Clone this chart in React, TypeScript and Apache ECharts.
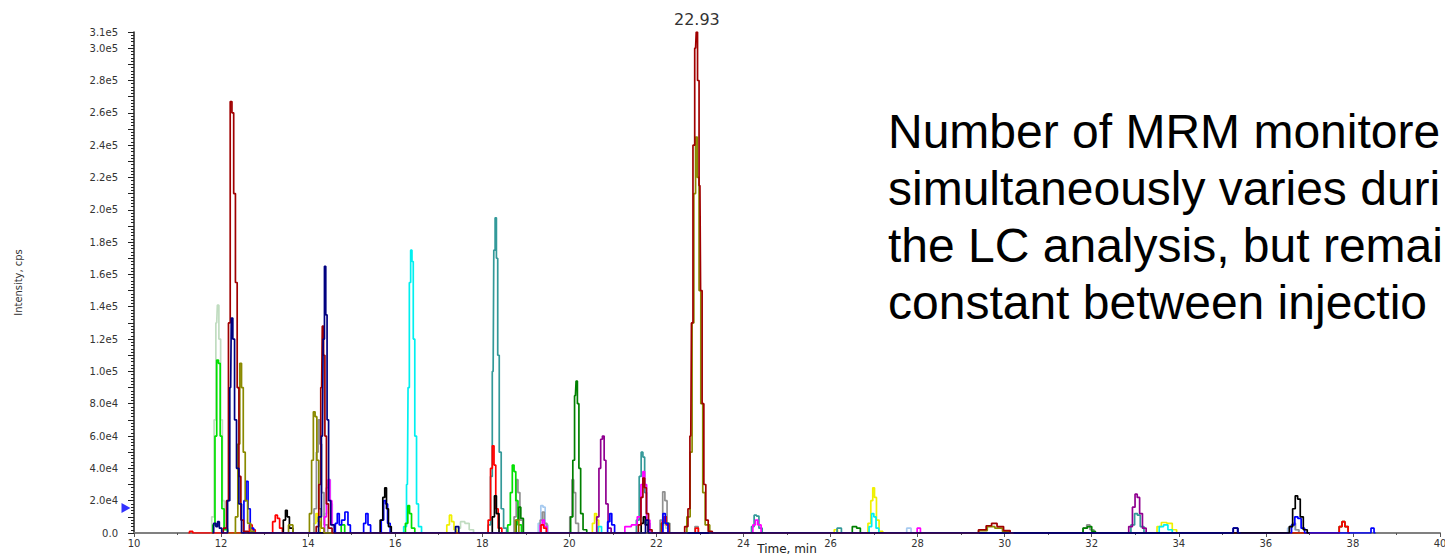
import React, { useEffect, useRef } from "react";
import * as echarts from "echarts";

// ---- Data (time in min, intensity in cps) ----
const xTicks = { min: 10, max: 40, step: 2 };
const yTicks = { min: 0, max: 310000, step: 10000 };
const apexTime = 22.93;
const apexIntensity = 310000;
const thresholdIntensity = 15500;

const paleGreenTrace: number[][] = [
  [11.75, 0], [11.82, 10000], [11.86, 70000], [11.9, 130000], [11.93, 141000], [11.97, 120000], [12.01, 70000], [12.05, 20000], [12.1, 3000], [12.2, 0],
  [17.35, 0], [17.45, 3000], [17.55, 7000], [17.65, 6000], [17.75, 2000], [17.85, 0],
  [22.1, 0], [22.18, 5000], [22.25, 3000], [22.35, 0],
];
const lightBlueTrace: number[][] = [
  [14.35, 0], [14.41, 12000], [14.45, 30000], [14.49, 33000], [14.53, 18000], [14.58, 4000], [14.66, 0],
  [19.25, 0], [19.32, 6000], [19.37, 17000], [19.42, 16000], [19.47, 5000], [19.55, 0],
  [27.7, 0], [27.8, 3000], [27.9, 0],
  [36.45, 0], [36.55, 3000], [36.62, 5000], [36.7, 2000], [36.8, 0],
];
const yellowTrace: number[][] = [
  [14.1, 0], [14.16, 6000], [14.2, 12000], [14.25, 7000], [14.3, 0],
  [17.15, 0], [17.22, 5000], [17.27, 11000], [17.32, 7000], [17.38, 2000], [17.45, 0],
  [20.5, 0], [20.56, 6000], [20.6, 12000], [20.65, 8000], [20.7, 0],
  [26.05, 0], [26.12, 2000], [26.2, 0],
  [26.82, 0], [26.9, 6000], [26.95, 20000], [26.99, 28000], [27.03, 22000], [27.08, 8000], [27.15, 1000], [27.25, 0],
  [33.45, 0], [33.55, 4000], [33.65, 6500], [33.8, 6000], [33.9, 2000], [34.0, 0],
];
const grayTrace: number[][] = [
  [14.1, 0], [14.17, 15000], [14.21, 50000], [14.25, 70000], [14.29, 55000], [14.33, 25000], [14.4, 5000], [14.5, 0],
  [18.7, 0], [18.76, 10000], [18.8, 33000], [18.84, 25000], [18.89, 8000], [18.97, 0],
  [19.3, 0], [19.36, 8000], [19.4, 13000], [19.45, 6000], [19.52, 0],
  [19.98, 0], [20.04, 10000], [20.08, 33000], [20.12, 25000], [20.17, 6000], [20.25, 0],
  [22.05, 0], [22.12, 8000], [22.17, 25500], [22.22, 20000], [22.27, 6000], [22.35, 0],
  [22.85, 0], [22.92, 4000], [23.0, 0],
  [31.75, 0], [31.85, 3000], [31.92, 5000], [32.0, 2000], [32.1, 0],
  [36.5, 0], [36.58, 4000], [36.64, 6000], [36.72, 2000], [36.8, 0],
];
const cyanTrace: number[][] = [
  [16.15, 0], [16.24, 4000], [16.28, 30000], [16.31, 90000], [16.34, 155000], [16.37, 175000], [16.4, 168000], [16.43, 120000], [16.47, 60000], [16.51, 18000], [16.56, 4000], [16.65, 0],
  [20.62, 0], [20.7, 4000], [20.78, 0],
  [26.85, 0], [26.92, 4000], [26.97, 12000], [27.02, 10000], [27.07, 3000], [27.15, 0],
  [33.5, 0], [33.6, 4000], [33.7, 5000], [33.8, 2000], [33.9, 0],
];
const limeTrace: number[][] = [
  [11.78, 0], [11.84, 5000], [11.88, 60000], [11.92, 107000], [11.96, 105000], [12.0, 60000], [12.04, 15000], [12.1, 2000], [12.2, 0],
  [14.72, 0], [14.8, 5000], [14.88, 0],
  [16.2, 0], [16.27, 6000], [16.31, 17000], [16.35, 12000], [16.4, 3000], [16.5, 0],
  [18.55, 0], [18.62, 5000], [18.67, 25000], [18.71, 42000], [18.75, 38000], [18.79, 20000], [18.85, 5000], [18.95, 0],
];
const greenTrace: number[][] = [
  [18.75, 0], [18.81, 8000], [18.86, 16000], [18.91, 9000], [18.98, 0],
  [20.0, 0], [20.06, 10000], [20.1, 45000], [20.14, 85000], [20.17, 94000], [20.2, 80000], [20.24, 40000], [20.28, 12000], [20.35, 2000], [20.45, 0],
  [22.08, 0], [22.15, 6000], [22.2, 10000], [22.25, 6000], [22.32, 0],
  [26.45, 0], [26.55, 4000], [26.65, 3000], [26.72, 0],
  [31.75, 0], [31.85, 3000], [31.95, 4000], [32.05, 1000], [32.12, 0],
  [37.65, 0], [37.72, 4000], [37.78, 7000], [37.85, 4000], [37.93, 0],
];
const tealTrace: number[][] = [
  [18.1, 0], [18.17, 5000], [18.21, 35000], [18.25, 100000], [18.28, 175000], [18.31, 195000], [18.34, 170000], [18.37, 110000], [18.41, 50000], [18.46, 15000], [18.52, 3000], [18.6, 0],
  [21.5, 0], [21.58, 8000], [21.63, 35000], [21.67, 50000], [21.71, 47000], [21.75, 25000], [21.8, 6000], [21.9, 0],
  [24.15, 0], [24.22, 4000], [24.27, 11000], [24.33, 10500], [24.38, 3000], [24.48, 0],
  [26.1, 0], [26.2, 3000], [26.3, 0],
  [32.85, 0], [32.95, 5000], [33.02, 12000], [33.08, 11000], [33.15, 4000], [33.25, 0],
];
const purpleTrace: number[][] = [
  [20.6, 0], [20.66, 10000], [20.7, 40000], [20.74, 58000], [20.78, 60000], [20.82, 45000], [20.86, 18000], [20.92, 3000], [21.0, 0],
  [32.8, 0], [32.9, 4000], [32.97, 16000], [33.02, 24000], [33.07, 22000], [33.13, 12000], [33.2, 3000], [33.3, 0],
];
const magentaTrace: number[][] = [
  [14.35, 0], [14.4, 10000], [14.44, 28000], [14.48, 33000], [14.52, 20000], [14.57, 5000], [14.65, 0],
  [19.3, 0], [19.36, 5000], [19.4, 8000], [19.45, 4000], [19.52, 0],
  [21.2, 0], [21.35, 4000], [21.5, 5000], [21.62, 10000], [21.67, 30000], [21.71, 38000], [21.75, 30000], [21.8, 8000], [21.9, 0],
  [24.18, 0], [24.25, 5000], [24.3, 8000], [24.36, 5000], [24.45, 0],
  [27.95, 0], [28.03, 3000], [28.1, 0],
];
const redTrace: number[][] = [
  [11.25, 0], [11.3, 1000], [11.4, 0],
  [12.62, 0], [12.68, 5000], [12.75, 2000], [12.82, 0],
  [13.15, 0], [13.22, 7000], [13.27, 11000], [13.32, 9000], [13.37, 3000], [13.45, 0],
  [18.1, 0], [18.17, 8000], [18.21, 40000], [18.25, 54000], [18.29, 42000], [18.33, 15000], [18.4, 3000], [18.5, 0],
  [19.32, 0], [19.38, 5000], [19.44, 3000], [19.5, 0],
  [22.1, 0], [22.16, 7000], [22.2, 10000], [22.25, 5000], [22.32, 0],
  [22.86, 0], [22.93, 3000], [23.0, 0],
  [37.65, 0], [37.72, 4000], [37.78, 7000], [37.85, 4000], [37.93, 0],
];
const blueTrace: number[][] = [
  [12.5, 0], [12.55, 20000], [12.6, 32000], [12.64, 15000], [12.7, 3000], [12.8, 0],
  [14.6, 0], [14.65, 6000], [14.69, 12000], [14.74, 5000], [14.8, 8000], [14.89, 13000], [14.94, 5000], [15.0, 0],
  [15.25, 0], [15.3, 6000], [15.35, 12000], [15.4, 5000], [15.47, 0],
  [15.65, 0], [15.71, 8000], [15.76, 20000], [15.8, 18000], [15.85, 6000], [15.92, 0],
  [20.85, 0], [20.91, 7000], [20.95, 12000], [21.0, 5000], [21.08, 0],
  [22.12, 0], [22.18, 12000], [22.23, 6000], [22.3, 0],
  [35.2, 0], [35.3, 3000], [35.4, 0],
  [36.55, 0], [36.63, 5000], [36.7, 10000], [36.77, 9000], [36.85, 3000], [36.93, 0],
  [38.38, 0], [38.45, 3000], [38.52, 0],
];
const blackTrace: number[][] = [
  [13.4, 0], [13.46, 8000], [13.5, 14000], [13.54, 10000], [13.6, 3000], [13.7, 0],
  [15.62, 0], [15.69, 8000], [15.74, 22000], [15.78, 28000], [15.82, 15000], [15.87, 4000], [15.95, 0],
  [18.2, 0], [18.26, 10000], [18.3, 23000], [18.35, 12000], [18.42, 0],
  [21.62, 0], [21.68, 6000], [21.72, 10000], [21.77, 5000], [21.85, 0],
  [36.5, 0], [36.58, 4000], [36.65, 15000], [36.7, 23000], [36.76, 21000], [36.82, 10000], [36.9, 2000], [37.0, 0],
];
const oliveTrace: number[][] = [
  [12.3, 0], [12.36, 10000], [12.41, 55000], [12.45, 105000], [12.49, 90000], [12.53, 50000], [12.58, 20000], [12.64, 6000], [12.72, 1000], [12.8, 0],
  [13.5, 0], [13.6, 5000], [13.7, 0],
  [14.0, 0], [14.06, 12000], [14.1, 45000], [14.14, 75000], [14.18, 72000], [14.22, 45000], [14.27, 15000], [14.33, 3000], [14.4, 0],
  [18.72, 0], [18.8, 8000], [18.88, 0],
  [22.65, 0], [22.75, 10000], [22.8, 50000], [22.84, 130000], [22.88, 210000], [22.92, 245000], [22.96, 220000], [23.0, 150000], [23.04, 80000], [23.09, 25000], [23.15, 5000], [23.3, 0],
  [29.3, 0], [29.5, 1500], [29.7, 4000], [29.85, 3000], [30.05, 1000], [30.2, 0],
];
const darkRedTrace: number[][] = [
  [12.0, 0], [12.1, 3000], [12.15, 20000], [12.19, 130000], [12.23, 267000], [12.27, 260000], [12.31, 210000], [12.35, 155000], [12.39, 90000], [12.43, 35000], [12.48, 8000], [12.55, 1000], [12.7, 0],
  [14.15, 0], [14.22, 4000], [14.27, 30000], [14.31, 90000], [14.34, 128000], [14.37, 110000], [14.4, 60000], [14.44, 18000], [14.5, 3000], [14.6, 0],
  [21.55, 0], [21.62, 5000], [21.67, 22000], [21.71, 34000], [21.75, 28000], [21.79, 12000], [21.85, 2000], [21.95, 0],
  [22.6, 0], [22.7, 4000], [22.75, 15000], [22.79, 60000], [22.82, 130000], [22.86, 240000], [22.9, 300000], [22.93, 310000], [22.96, 280000], [23.0, 215000], [23.03, 150000], [23.07, 80000], [23.11, 30000], [23.16, 8000], [23.22, 1000], [23.35, 0],
  [29.3, 0], [29.5, 2000], [29.65, 4500], [29.75, 6000], [29.9, 4000], [30.05, 1500], [30.2, 0],
];
const navyTrace: number[][] = [
  [11.8, 0], [11.86, 6000], [11.9, 4000], [11.94, 7000], [11.98, 3000], [12.05, 0],
  [12.12, 0], [12.18, 20000], [12.22, 90000], [12.25, 133000], [12.29, 120000], [12.33, 70000], [12.38, 40000], [12.44, 18000], [12.5, 0],
  [14.2, 0], [14.28, 10000], [14.33, 60000], [14.36, 120000], [14.39, 165000], [14.42, 135000], [14.45, 70000], [14.49, 20000], [14.55, 5000], [14.65, 0],
  [17.35, 0], [17.42, 4000], [17.5, 0],
  [21.72, 0], [21.78, 8000], [21.85, 0],
  [35.2, 0], [35.3, 3000], [35.42, 0],
];

// The reference crops these lines at the right edge of the picture
const annotationLines = [
  "Number of MRM monitore",
  "simultaneously varies duri",
  "the LC analysis, but remai",
  "constant between injectio",
];

const traces = [
  { name: "pale green", data: paleGreenTrace, color: "#c0dcc0" },
  { name: "light blue", data: lightBlueTrace, color: "#a6caf0" },
  { name: "yellow", data: yellowTrace, color: "#f0f000" },
  { name: "gray", data: grayTrace, color: "#909090" },
  { name: "cyan", data: cyanTrace, color: "#00f0f0" },
  { name: "lime", data: limeTrace, color: "#00e000" },
  { name: "green", data: greenTrace, color: "#008000" },
  { name: "teal", data: tealTrace, color: "#339999" },
  { name: "purple", data: purpleTrace, color: "#900090" },
  { name: "magenta", data: magentaTrace, color: "#ff00ff" },
  { name: "red", data: redTrace, color: "#ff0000" },
  { name: "blue", data: blueTrace, color: "#0000ff" },
  { name: "black", data: blackTrace, color: "#000000" },
  { name: "olive", data: oliveTrace, color: "#8a8a00" },
  { name: "dark red", data: darkRedTrace, color: "#a00000" },
  { name: "navy", data: navyTrace, color: "#000080" },
];

function fmtY(v: number): string {
  if (v === 0) return "0.0";
  const k = Math.round(v / 10000);
  if (k % 2 !== 0 && v !== yTicks.max) return "";
  const e = Math.floor(Math.log10(v) + 1e-9);
  const m = v / Math.pow(10, e);
  return `${m.toFixed(1)}e${e}`;
}

export default function App() {
  const ref = useRef<HTMLDivElement>(null);
  useEffect(() => {
    if (!ref.current) return;
    const chart = echarts.init(ref.current, null, { renderer: "svg" });
    const series: any[] = traces.map((t) => ({
      type: "line",
      name: t.name,
      data: t.data,
      step: "middle",
      showSymbol: false,
      symbol: "none",
      lineStyle: { color: t.color, width: 1.7 },
      itemStyle: { color: t.color },
      silent: true,
      markPoint:
        t.name === "dark red"
          ? {
              symbol: "circle",
              symbolSize: 0,
              silent: true,
              data: [{ coord: [apexTime, apexIntensity], value: apexTime }],
              label: {
                show: true,
                position: "top",
                distance: 5,
                formatter: apexTime.toFixed(2),
                fontFamily: "DejaVu Sans",
                fontSize: 16,
                color: "#333",
              },
            }
          : undefined,
    }));
    series.push({
      type: "scatter",
      data: [[xTicks.min, thresholdIntensity]],
      symbol: "triangle",
      symbolSize: [10, 9],
      symbolRotate: -90,
      symbolOffset: [-8, 0],
      clip: false,
      silent: true,
      z: 10,
      itemStyle: { color: "#0000ff" },
    });
    chart.setOption({
      animation: false,
      backgroundColor: "#ffffff",
      grid: { left: 134, right: 5, top: 32, bottom: 27, containLabel: false, outerBoundsMode: "none" },
      xAxis: {
        type: "value",
        min: xTicks.min,
        max: xTicks.max,
        interval: xTicks.step,
        name: "Time, min",
        nameLocation: "middle",
        nameGap: 10,
        nameMoveOverlap: false,
        nameTextStyle: { fontFamily: "DejaVu Sans", fontSize: 12, color: "#222" },
        axisLine: { show: true, onZero: false, lineStyle: { color: "#808080", width: 2 } },
        axisTick: { show: true, length: 4, lineStyle: { color: "#555" } },
        minorTick: { show: true, splitNumber: 2, length: 2, lineStyle: { color: "#555" } },
        axisLabel: { fontFamily: "DejaVu Sans", fontSize: 10, color: "#333", margin: 5 },
        splitLine: { show: false },
      },
      yAxis: {
        type: "value",
        min: yTicks.min,
        max: yTicks.max,
        interval: yTicks.step,
        name: "Intensity, cps",
        nameLocation: "middle",
        nameRotate: 90,
        nameGap: 110,
        nameMoveOverlap: false,
        nameTextStyle: { fontFamily: "DejaVu Sans Condensed", fontSize: 11, color: "#333" },
        axisLine: { show: true, lineStyle: { color: "#222", width: 1.5 } },
        axisTick: { show: true, length: 6, lineStyle: { color: "#222" } },
        minorTick: { show: true, splitNumber: 5, length: 3, lineStyle: { color: "#222" } },
        axisLabel: { fontFamily: "DejaVu Sans", fontSize: 10, color: "#333", margin: 16, formatter: fmtY },
        splitLine: { show: false },
      },
      graphic: annotationLines.map((line, i) => ({
        type: "text",
        x: 888,
        y: 131 + i * 57,
        silent: true,
        style: {
          text: line,
          font: '48px "Liberation Sans", Arial, sans-serif',
          fill: "#000",
          align: "left",
          verticalAlign: "middle",
        },
      })),
      series,
    });
    return () => chart.dispose();
  }, []);
  return (
    <div
      ref={ref}
      style={{ position: "absolute", left: 0, top: 0, width: 1445, height: 560, background: "#fff" }}
    />
  );
}
